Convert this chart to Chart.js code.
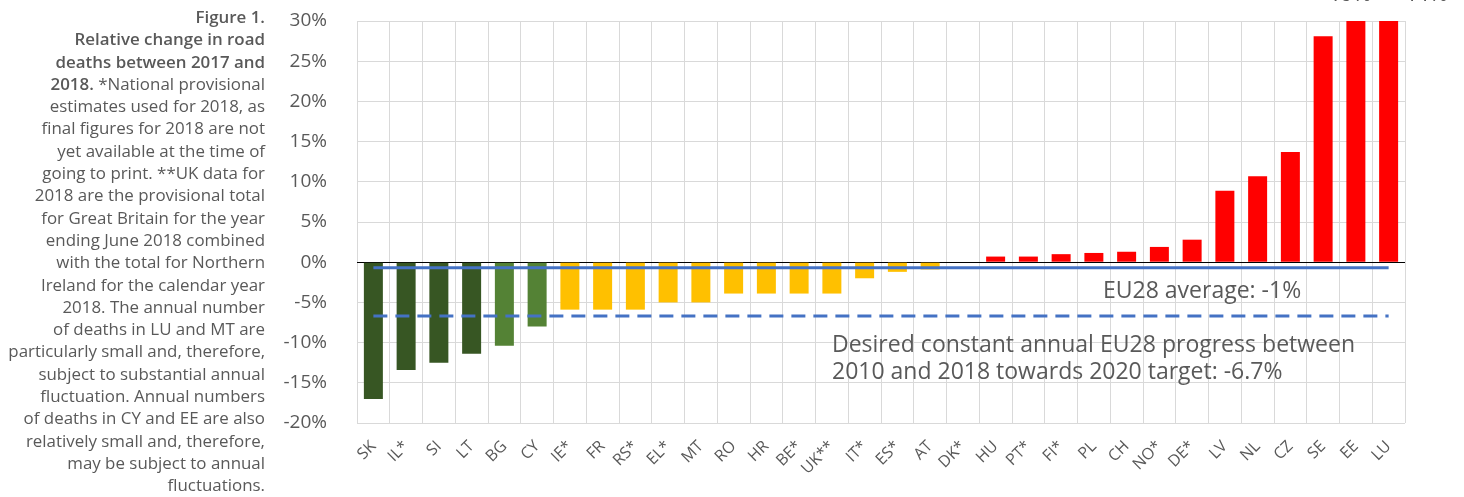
<!DOCTYPE html>
<html>
<head>
<meta charset="utf-8">
<script src="https://cdn.jsdelivr.net/npm/chart.js@4"></script>
<style>
  html, body { margin: 0; padding: 0; background: #fff; }
  #wrap { position: relative; width: 1464px; height: 497px; overflow: hidden; }
  #chart { position: absolute; left: 0; top: 0; }
  #caption {
    position: absolute; left: 0; top: 6px; width: 265px;
    text-align: right; color: #595959;
    font-family: "Open Sans", sans-serif; font-size: 16.9px; line-height: 22.3px;
    white-space: nowrap;
  }
  #caption b { font-weight: 600; }
</style>
</head>
<body>
<div id="wrap">
  <canvas id="chart" width="1464" height="497"></canvas>
  <div id="caption">
    <b>Figure 1.</b><br>
    <b>Relative change in road</b><br>
    <b>deaths between 2017 and</b><br>
    <b>2018.</b> *National provisional<br>
    estimates used for 2018, as<br>
    final figures for 2018 are not<br>
    yet available at the time of<br>
    going to print. **UK data for<br>
    2018 are the provisional total<br>
    for Great Britain for the year<br>
    ending June 2018 combined<br>
    with the total for Northern<br>
    Ireland for the calendar year<br>
    2018. The annual number<br>
    of deaths in LU and MT are<br>
    particularly small and, therefore,<br>
    subject to substantial annual<br>
    fluctuation. Annual numbers<br>
    of deaths in CY and EE are also<br>
    relatively small and, therefore,<br>
    may be subject to annual<br>
    fluctuations.
  </div>
</div>
<script>
// Relative change in road deaths 2017 -> 2018 (%)
const categories = ['SK', 'IL*', 'SI', 'LT', 'BG', 'CY', 'IE*', 'FR', 'RS*', 'EL*', 'MT', 'RO', 'HR', 'BE*', 'UK**', 'IT*',
    'ES*', 'AT', 'DK*', 'HU', 'PT*', 'FI*', 'PL', 'CH', 'NO*', 'DE*', 'LV', 'NL', 'CZ', 'SE', 'EE', 'LU'];
const changes = [-17, -13.4, -12.5, -11.4, -10.4, -8, -5.9, -5.9, -5.9, -5, -5, -3.9, -3.9, -3.9, -3.9, -2,
    -1.2, -0.9, 0, 0.7, 0.7, 1, 1.15, 1.3, 1.9, 2.8, 8.9, 10.7, 13.7, 28.1, 40, 44];
const groups = ['dark', 'dark', 'dark', 'dark', 'light', 'light',
    'mid', 'mid', 'mid', 'mid', 'mid', 'mid', 'mid', 'mid', 'mid', 'mid', 'mid', 'mid', 'mid',
    'up', 'up', 'up', 'up', 'up', 'up', 'up', 'up', 'up', 'up', 'up', 'up', 'up'];
const yTicks = [-20, -15, -10, -5, 0, 5, 10, 15, 20, 25, 30];
const euAverage = -0.7;   // drawn slightly above the labelled -1%
const targetRate = -6.7;
const offscaleLabel = '+40%   +44%';

const groupColors = { dark: '#375623', light: '#548235', mid: '#FFC000', up: '#FF0000' };
const textGrey = '#595959';
const font = '"Open Sans", sans-serif';

const notes = {
    id: 'notes',
    afterDatasetsDraw(chart) {
        const { ctx } = chart;
        ctx.save();
        ctx.fillStyle = textGrey;
        ctx.font = '23px ' + font;
        ctx.textBaseline = 'alphabetic';
        ctx.textAlign = 'left';
        ctx.fillText('EU28 average: -1%', 1103, 298);

        // justified first line
        const line1 = 'Desired constant annual EU28 progress between'.split(' ');
        const target = 523;
        const wordsW = line1.reduce((s, w) => s + ctx.measureText(w).width, 0);
        const gap = (target - wordsW) / (line1.length - 1);
        let x = 832;
        line1.forEach(w => {
            ctx.fillText(w, x, 352);
            x += ctx.measureText(w).width + gap;
        });
        ctx.fillText('2010 and 2018 towards 2020 target: -6.7%', 832, 379);

        // labels of the off-scale bars, cut by the top edge
        ctx.textAlign = 'right';
        ctx.fillText(offscaleLabel, 1448, 1);
        ctx.restore();
    }
};

new Chart(document.getElementById('chart'), {
    data: {
        labels: categories,
        datasets: [
            {
                type: 'line',
                data: [{ x: categories[0], y: euAverage }, { x: categories[categories.length - 1], y: euAverage }],
                borderColor: '#4472C4',
                borderWidth: 3,
                pointRadius: 0,
                order: 1
            },
            {
                type: 'line',
                data: [{ x: categories[0], y: targetRate }, { x: categories[categories.length - 1], y: targetRate }],
                borderColor: '#4472C4',
                borderWidth: 3,
                borderDash: [14, 8],
                pointRadius: 0,
                order: 1
            },
            {
                type: 'bar',
                data: changes,
                backgroundColor: groups.map(g => groupColors[g]),
                categoryPercentage: 1,
                barPercentage: 0.58,
                order: 2
            }
        ]
    },
    options: {
        responsive: false,
        animation: false,
        layout: { padding: { left: 270, right: 59, top: 21, bottom: 0 } },
        plugins: { legend: { display: false }, tooltip: { enabled: false } },
        scales: {
            x: {
                grid: { color: '#d9d9d9', drawTicks: false, offset: true },
                border: { display: false },
                ticks: {
                    color: textGrey,
                    font: { family: font, size: 16 },
                    minRotation: 45,
                    maxRotation: 45,
                    padding: 14
                },
                afterFit(scale) { scale.height = 74; }
            },
            y: {
                min: yTicks[0],
                max: yTicks[yTicks.length - 1],
                afterBuildTicks(scale) { scale.ticks = yTicks.map(v => ({ value: v })); },
                grid: {
                    color: ctx => ctx.tick && ctx.tick.value === 0 ? '#000000' : '#d9d9d9',
                    drawTicks: false
                },
                border: { display: false },
                ticks: {
                    color: textGrey,
                    font: { family: font, size: 19 },
                    padding: 30,
                    callback: v => v + '%'
                },
                afterFit(scale) {
                    scale.width = 87;
                    scale.paddingTop = 0;
                    scale.paddingBottom = 0;
                }
            }
        }
    },
    plugins: [notes]
});
</script>
</body>
</html>
